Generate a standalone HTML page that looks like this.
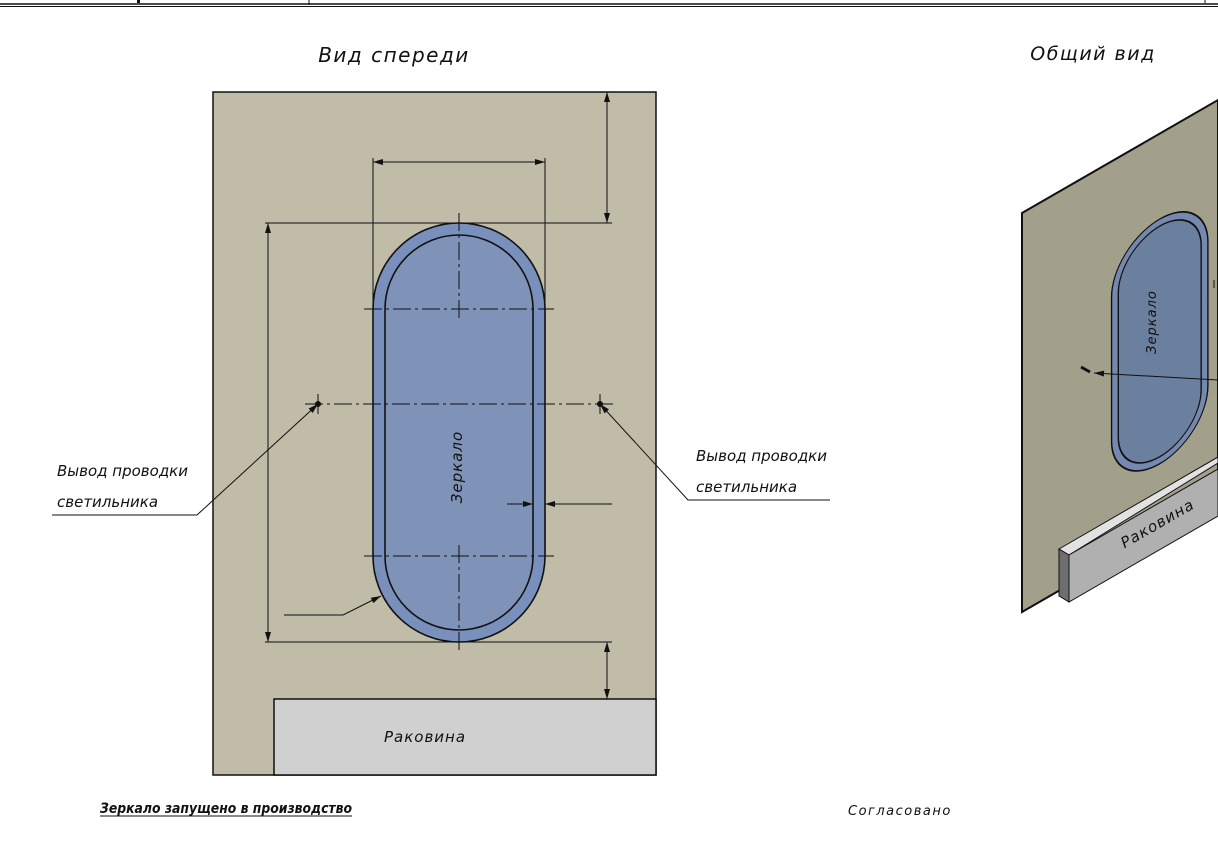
<!DOCTYPE html>
<html><head><meta charset="utf-8"><style>
html,body{margin:0;padding:0;background:#fff;}
svg{display:block;}
text{font-family:"DejaVu Sans","Liberation Sans",sans-serif;font-style:italic;fill:#111;}
</style></head><body>
<svg width="1218" height="849" viewBox="0 0 1218 849" xmlns="http://www.w3.org/2000/svg">
<defs>
<marker id="ar" viewBox="0 0 10 6" refX="10" refY="3" markerWidth="14" markerHeight="6" markerUnits="userSpaceOnUse" orient="auto-start-reverse"><path d="M0,0 L10,3 L0,6 z" fill="#111"/></marker>
</defs>
<line x1="0" y1="4" x2="1218" y2="4" stroke="#111" stroke-width="1.5"/>
<line x1="0" y1="6.5" x2="1218" y2="6.5" stroke="#111" stroke-width="1"/>
<line x1="309" y1="0" x2="309" y2="5" stroke="#111" stroke-width="1"/>
<rect x="137" y="0" width="3" height="3" fill="#111"/>
<line x1="1205" y1="0" x2="1205" y2="3" stroke="#111" stroke-width="1"/>

<text x="394" y="62" font-size="20" letter-spacing="1.5" text-anchor="middle">Вид спереди</text>
<text x="1093" y="60" font-size="19" letter-spacing="1.5" text-anchor="middle">Общий вид</text>

<rect x="213" y="92" width="443" height="683" fill="#c0bca8" stroke="#111" stroke-width="1.5"/>
<rect x="274" y="699" width="382" height="76" fill="#d0d0d0" stroke="#111" stroke-width="1.5"/>
<text x="425" y="742" font-size="15" letter-spacing="1" text-anchor="middle">Раковина</text>

<path d="M373,309 A86,86 0 0 1 545,309 L545,556 A86,86 0 0 1 373,556 Z" fill="#7990bc" stroke="#111" stroke-width="1.6"/>
<path d="M385,309 A74,74 0 0 1 533,309 L533,556 A74,74 0 0 1 385,556 Z" fill="#7f93b8" stroke="#111" stroke-width="1.6"/>
<text transform="translate(462,467) rotate(-90)" font-size="15" letter-spacing="1" text-anchor="middle">Зеркало</text>

<g stroke="#111" stroke-width="1" fill="none">
<line x1="459" y1="213" x2="459" y2="320" stroke-dasharray="18,4,3,4"/>
<line x1="364" y1="309" x2="554" y2="309" stroke-dasharray="18,4,3,4"/>
<line x1="459" y1="545" x2="459" y2="652" stroke-dasharray="18,4,3,4"/>
<line x1="364" y1="556" x2="554" y2="556" stroke-dasharray="18,4,3,4"/>
<line x1="305" y1="404" x2="613" y2="404" stroke-dasharray="18,4,3,4"/>
<line x1="318" y1="394" x2="318" y2="414"/><line x1="600" y1="394" x2="600" y2="414"/>
<line x1="373" y1="158" x2="373" y2="309"/><line x1="545" y1="158" x2="545" y2="309"/>
<line x1="373" y1="162" x2="545" y2="162" marker-start="url(#ar)" marker-end="url(#ar)"/>
<line x1="265" y1="223" x2="612" y2="223"/>
<line x1="265" y1="642" x2="612" y2="642"/>
<line x1="607" y1="92" x2="607" y2="223" marker-start="url(#ar)" marker-end="url(#ar)"/>
<line x1="268" y1="223" x2="268" y2="642" marker-start="url(#ar)" marker-end="url(#ar)"/>
<line x1="607" y1="642" x2="607" y2="699" marker-start="url(#ar)" marker-end="url(#ar)"/>
<line x1="507" y1="504" x2="533" y2="504" marker-end="url(#ar)"/>
<line x1="612" y1="504" x2="545" y2="504" marker-end="url(#ar)"/>
<polyline points="52,515 197,515 318,404" marker-end="url(#ar)"/>
<polyline points="830,500 688,500 600,404" marker-end="url(#ar)"/>
<polyline points="284,615 343,615 381,596" marker-end="url(#ar)"/>
</g>
<circle cx="318" cy="404" r="3" fill="#111"/><circle cx="600" cy="404" r="3" fill="#111"/>
<text x="57" y="476" font-size="15">Вывод проводки</text>
<text x="57" y="507" font-size="15">светильника</text>
<text x="696" y="461" font-size="15">Вывод проводки</text>
<text x="696" y="492" font-size="15">светильника</text>

<polygon points="1022,213 1218,100 1218,499 1022,612" fill="#a2a08a" stroke="#111" stroke-width="2"/>
<g transform="translate(0,9) matrix(0.56,-0.323,0,0.584,902.7,228.1)">
<path d="M373,309 A86,86 0 0 1 545,309 L545,556 A86,86 0 0 1 373,556 Z" fill="#7589b0" stroke="#111" stroke-width="2.5"/>
<path d="M385,309 A74,74 0 0 1 533,309 L533,556 A74,74 0 0 1 385,556 Z" fill="#6b7f9f" stroke="#111" stroke-width="2.5"/>
</g>
<text transform="translate(1156,322) rotate(-90)" font-size="13" letter-spacing="1" text-anchor="middle">Зеркало</text>
<line x1="1218" y1="380" x2="1094" y2="373" stroke="#111" stroke-width="1" marker-end="url(#ar)"/>
<line x1="1081" y1="367" x2="1090" y2="372" stroke="#111" stroke-width="3"/>
<line x1="1214" y1="280" x2="1214" y2="288" stroke="#111" stroke-width="1"/>
<polygon points="1059,549 1218,457 1218,463 1069,555" fill="#e2e2e2" stroke="#111" stroke-width="1"/>
<polygon points="1069,555 1218,469 1218,516 1069,602" fill="#b0b0b0" stroke="#111" stroke-width="1"/>
<polygon points="1059,549 1069,555 1069,602 1059,596" fill="#6e6e6e" stroke="#111" stroke-width="1"/>
<text transform="translate(1160,528) rotate(-30)" font-size="15" letter-spacing="1" text-anchor="middle">Раковина</text>

<text x="100" y="813" font-size="14" font-weight="bold" textLength="252" lengthAdjust="spacingAndGlyphs">Зеркало запущено в производство</text>
<line x1="100" y1="816" x2="352" y2="816" stroke="#111" stroke-width="1"/>
<text x="848" y="815" font-size="13" letter-spacing="1.5">Согласовано</text>
</svg>
</body></html>
